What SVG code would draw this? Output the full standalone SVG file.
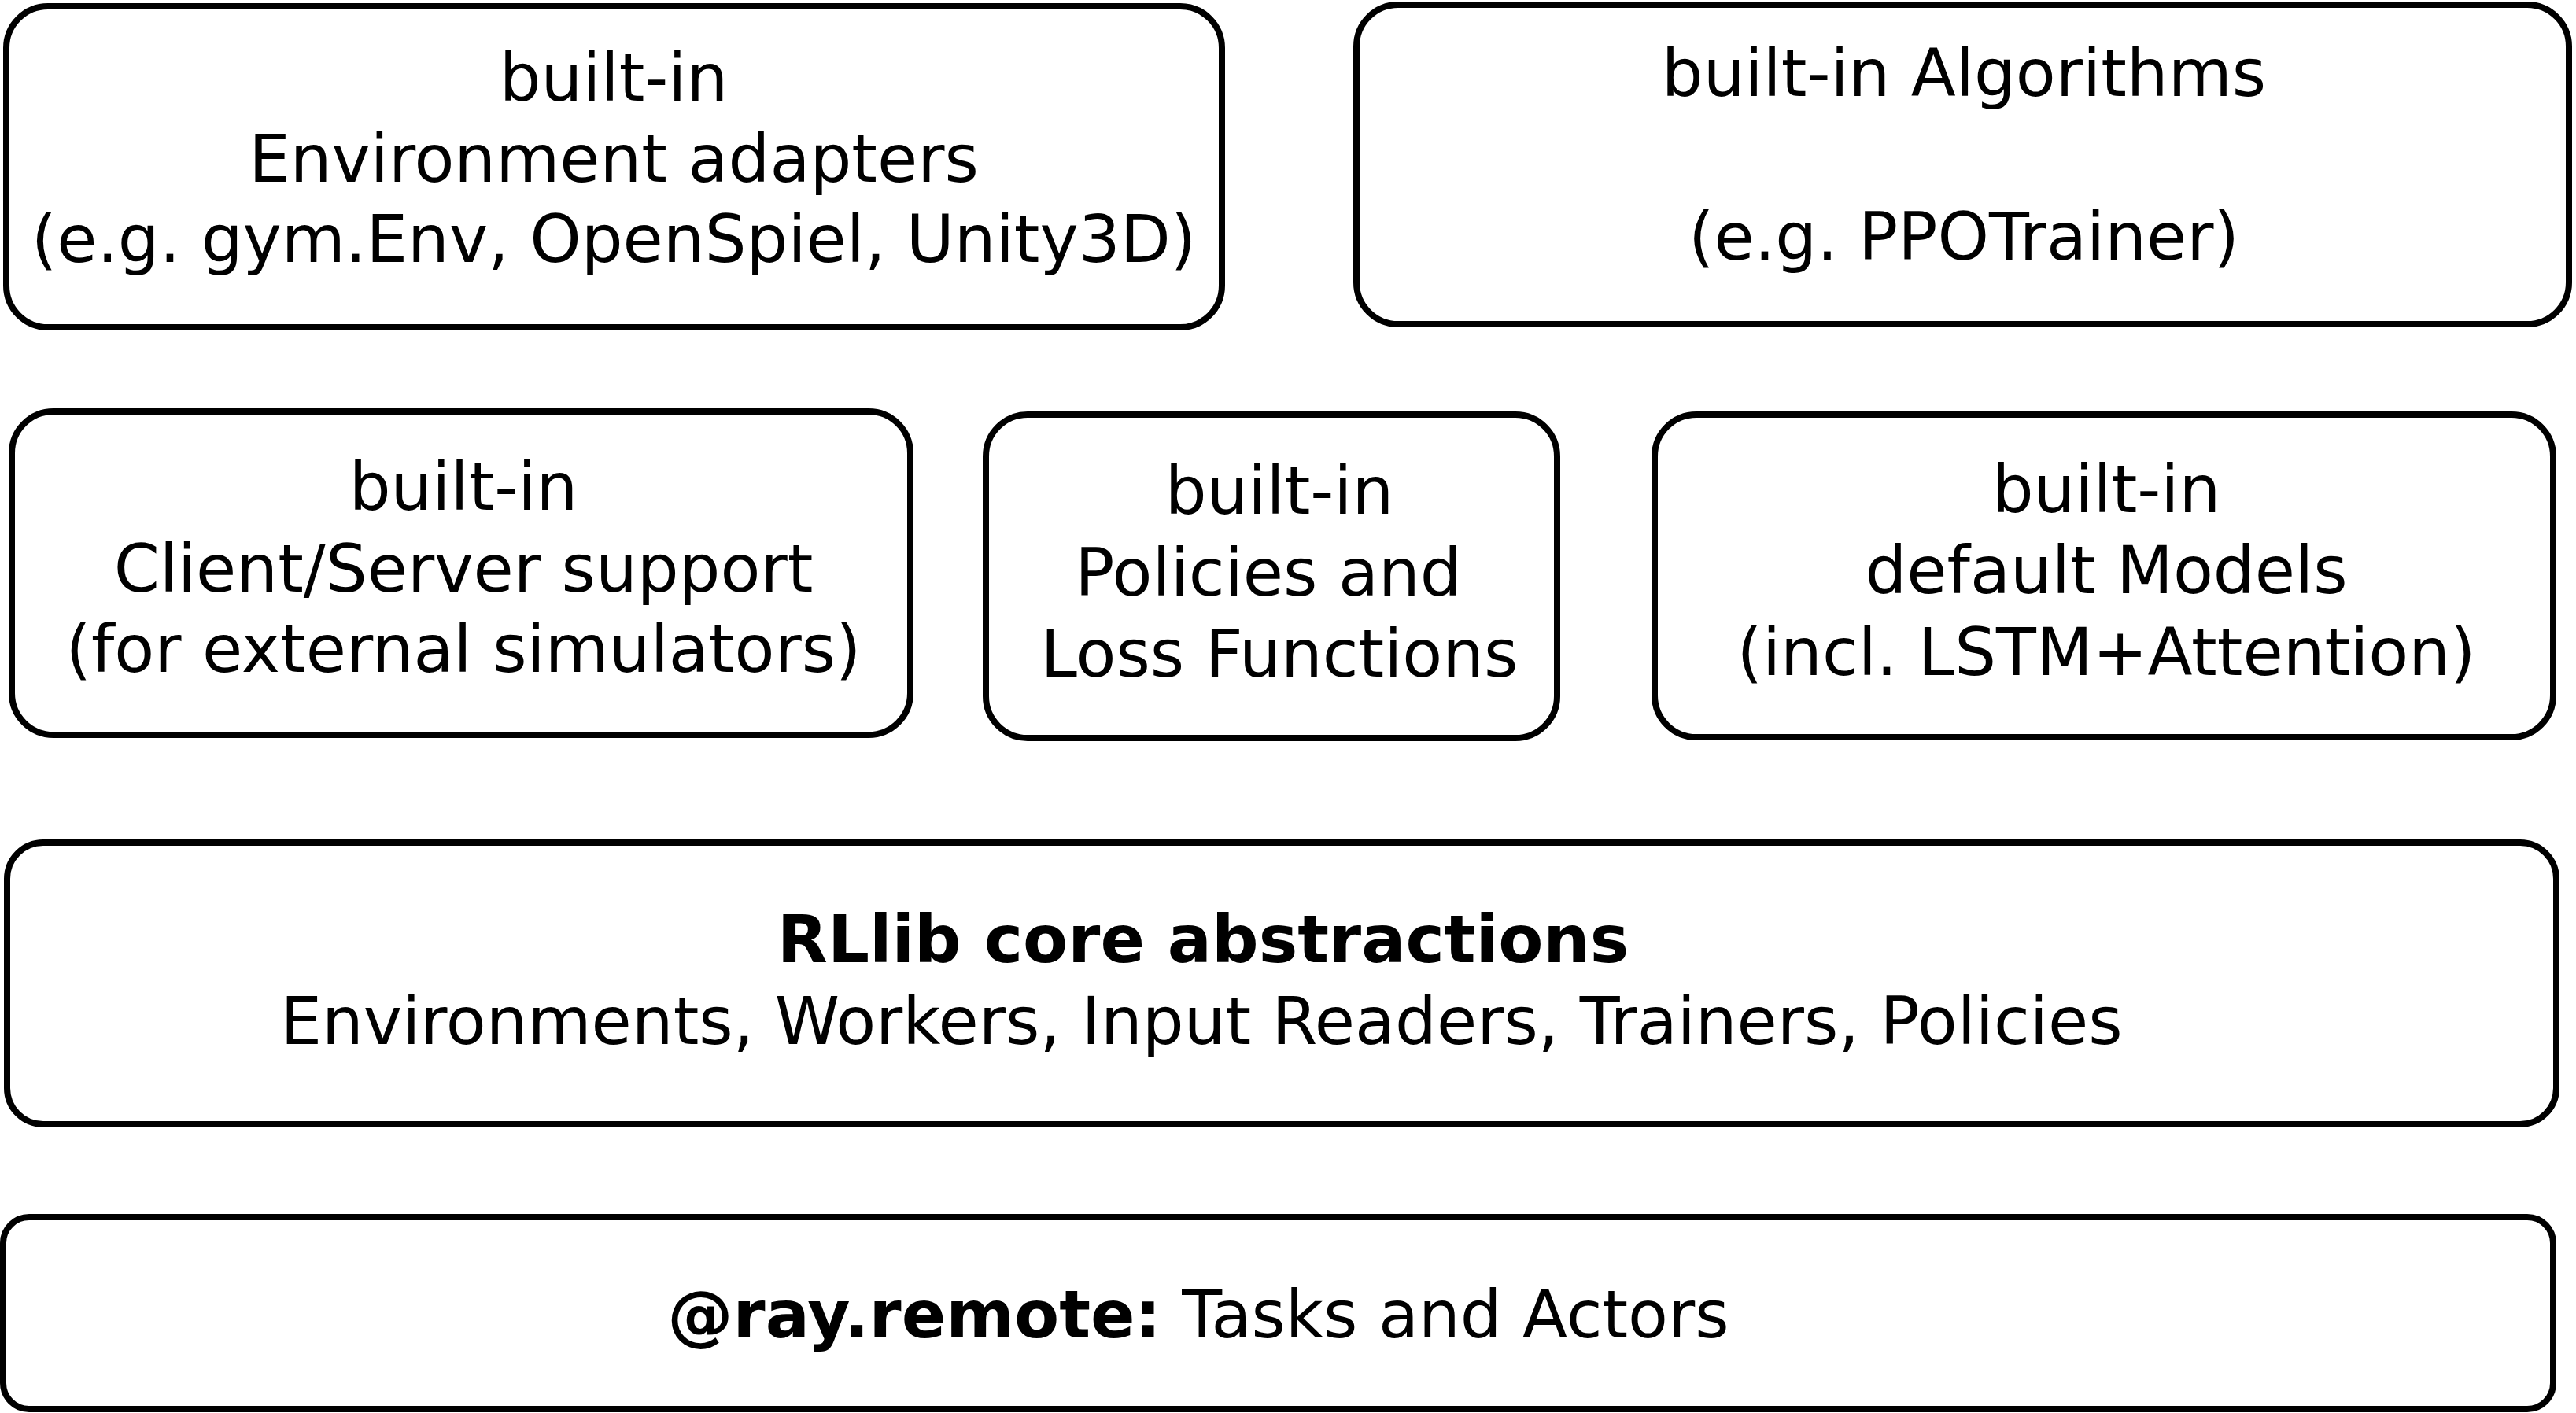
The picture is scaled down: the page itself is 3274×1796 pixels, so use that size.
<svg xmlns="http://www.w3.org/2000/svg" width="3274" height="1796" viewBox="0 0 3274 1796">
<style>
.box{fill:#fff;stroke:#000;stroke-width:8}
text{font-family:"DejaVu Sans","Noto Sans",sans-serif;font-size:83.3px;fill:#000;text-anchor:middle}
.b{font-weight:bold}
</style>
<rect width="3274" height="1796" fill="#fff"/>
<g id="connectors"></g>
<g id="env-adapters">
<rect class="box" x="8" y="8" width="1545" height="408" rx="53" ry="53"/>
<text x="780" y="128">built-in</text>
<text x="780" y="231">Environment adapters</text>
<text x="780" y="333">(e.g. gym.Env, OpenSpiel, Unity3D)</text>
</g>
<g id="algorithms">
<rect class="box" x="1724" y="6" width="1541" height="406" rx="53" ry="53"/>
<text x="2496" y="122">built-in Algorithms</text>
<text x="2496" y="330">(e.g. PPOTrainer)</text>
</g>
<g id="client-server">
<rect class="box" x="15" y="523" width="1142" height="411" rx="53" ry="53"/>
<text x="589" y="648">built-in</text>
<text x="589" y="752">Client/Server support</text>
<text x="589" y="854">(for external simulators)</text>
</g>
<g id="policies">
<rect class="box" x="1253" y="527" width="726" height="411" rx="53" ry="53"/>
<text x="1626" y="653">built-in</text>
<text x="1612" y="757">Policies and</text>
<text x="1626" y="860">Loss Functions</text>
</g>
<g id="models">
<rect class="box" x="2103" y="527" width="1142" height="410" rx="53" ry="53"/>
<text x="2677" y="651">built-in</text>
<text x="2677" y="754">default Models</text>
<text x="2677" y="858">(incl. LSTM+Attention)</text>
</g>
<g id="core">
<rect class="box" x="9" y="1071" width="3240" height="358" rx="46" ry="46"/>
<text class="b" x="1529" y="1223">RLlib core abstractions</text>
<text x="1527" y="1327">Environments, Workers, Input Readers, Trainers, Policies</text>
</g>
<g id="ray-remote">
<rect class="box" x="4" y="1547" width="3241" height="244" rx="33" ry="33"/>
<text x="1523" y="1700"><tspan class="b">@ray.remote:</tspan> Tasks and Actors</text>
</g>
</svg>
